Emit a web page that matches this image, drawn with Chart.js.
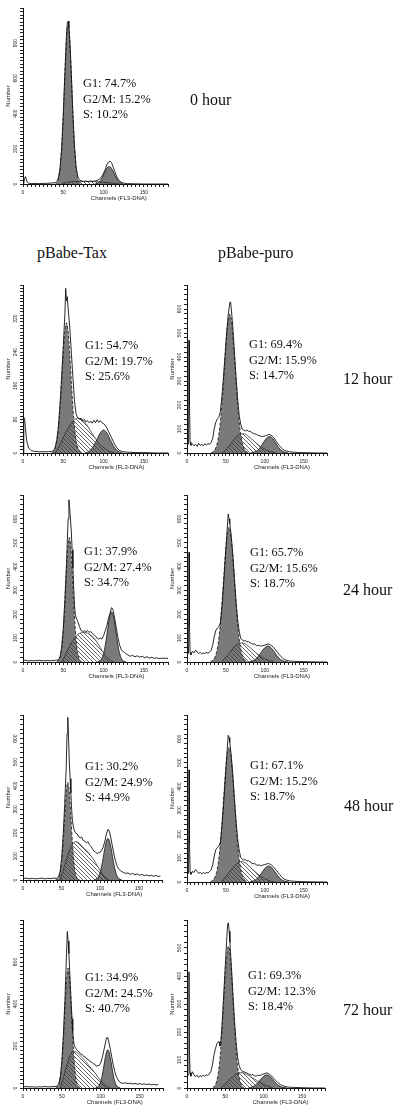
<!DOCTYPE html>
<html>
<head>
<meta charset="utf-8">
<script src="https://cdn.jsdelivr.net/npm/chart.js@4.4.1/dist/chart.umd.min.js"></script>
<style>
  body { margin: 0; background: #fff; }
  #page { position: relative; width: 400px; height: 1113px; overflow: hidden; background: #fff; }
  #page canvas { position: absolute; }
  .txt { position: absolute; font-family: 'Liberation Serif', 'Times New Roman', serif; color: #111; white-space: nowrap; }
  .stats { font-size: 12.3px; line-height: 15.5px; }
  .hour, .head { font-size: 16px; line-height: 20px; }
</style>
</head>
<body>
<div id="page"></div>
<script>
// labels
const hourLabels = ['0 hour', '12 hour', '24 hour', '48 hour', '72 hour'];
const groupNames = ['pBabe-Tax', 'pBabe-puro'];
const g1Pct = [74.7, 54.7, 69.4, 37.9, 65.7, 30.2, 67.1, 34.9, 69.3];
const g2Pct = [15.2, 19.7, 15.9, 27.4, 15.6, 24.9, 15.2, 24.5, 12.3];
const sPct  = [10.2, 25.6, 14.7, 34.7, 18.7, 44.9, 18.7, 40.7, 18.4];

// axis ticks per panel
const yTop   = [1000, 400, 700, 700, 700, 700, 700, 800, 600];
const yMajor = [200, 80, 100, 100, 100, 100, 100, 200, 100];
const yMinor = [20, 8, 20, 20, 20, 20, 20, 20, 20];
const xMajor = [0, 50, 100, 150];

// histograms: [channel, count]
// 0 hour
const raw0 = [[0,0],[1,8],[2,30],[3,42],[4,28],[5,12],[7,5],[10,2],[15,3],[20,2],[25,3],[30,4],[35,5],[40,8],[42,14],[44,35],[46,90],[48,205],[50,395],[52,630],[54,850],[55,915],[56,925],[57,885],[58,830],[60,625],[62,395],[64,210],[66,95],[68,42],[70,24],[72,18],[75,14],[78,16],[81,13],[84,17],[87,15],[90,18],[93,22],[96,32],[99,52],[102,82],[104,108],[106,124],[108,130],[110,120],[112,96],[114,70],[116,46],[118,28],[120,16],[123,8],[126,4],[130,2],[140,1],[150,0],[180,0]];
const g1_0 = [[40,0],[42,5],[44,30],[46,85],[48,198],[50,384],[52,616],[54,820],[56,900],[58,820],[60,616],[62,384],[64,198],[66,85],[68,30],[70,8],[72,0]];
const g2_0 = [[89,0],[92,4],[95,14],[98,32],[101,61],[104,88],[107,100],[110,88],[113,61],[116,32],[119,14],[122,4],[125,0]];
const s_0  = [[48,0],[54,8],[60,13],[68,15],[78,15],[88,14],[98,11],[106,7],[114,3],[120,0]];

// pBabe-Tax 12 hour
const rawTax12 = [[0,0],[1,85],[2,80],[3,60],[4,40],[5,25],[7,12],[10,6],[14,4],[20,3],[26,3],[32,3],[36,4],[38,6],[40,14],[42,32],[44,64],[46,118],[48,182],[50,255],[52,330],[53,392],[54,362],[55,372],[56,345],[58,300],[60,240],[62,178],[64,122],[66,92],[68,84],[70,80],[72,83],[74,76],[76,80],[78,74],[80,77],[82,72],[84,76],[86,71],[88,78],[90,72],[92,79],[94,73],[96,77],[98,72],[100,70],[102,66],[104,60],[106,52],[108,44],[110,36],[112,28],[114,20],[116,14],[118,9],[120,6],[124,3],[130,2],[140,1],[150,1],[165,0],[180,0]];
const g1Tax12 = [[36,1],[38,4],[40,12],[42,28],[44,59],[46,108],[48,171],[50,238],[52,290],[54,310],[56,290],[58,238],[60,171],[62,108],[64,59],[66,28],[68,12],[70,4],[72,0]];
const g2Tax12 = [[78,0],[80,2],[84,7],[88,18],[92,33],[96,48],[100,55],[104,48],[108,33],[112,18],[116,7],[120,2],[124,0]];
const sTax12  = [[40,0],[46,20],[52,45],[58,65],[63,78],[68,83],[73,80],[78,70],[84,52],[90,34],[96,20],[102,10],[108,3],[114,0]];

// pBabe-puro 12 hour
const rawPuro12 = [[0,30],[2,38],[2.6,470],[3.2,200],[4,45],[5,32],[7,38],[9,30],[11,36],[13,28],[15,40],[17,32],[19,36],[21,30],[23,38],[25,34],[27,40],[29,36],[31,44],[33,60],[35,100],[37,128],[39,142],[41,148],[43,175],[45,240],[47,320],[49,410],[51,505],[53,575],[55,625],[56,630],[57,600],[59,520],[61,420],[63,320],[65,230],[67,160],[69,120],[71,100],[73,95],[75,92],[77,96],[79,90],[81,92],[83,86],[85,82],[87,80],[89,78],[91,74],[93,72],[95,70],[97,68],[99,70],[101,72],[103,74],[105,78],[107,76],[109,72],[111,66],[113,58],[115,48],[117,38],[119,30],[121,22],[123,16],[125,12],[128,8],[132,5],[138,3],[145,2],[155,1],[170,0],[180,0]];
const g1Puro12 = [[31,0],[33,4],[35,10],[37,21],[39,42],[41,78],[43,133],[45,208],[47,301],[49,400],[51,491],[53,555],[55,578],[57,555],[59,491],[61,400],[63,301],[65,208],[67,133],[69,78],[71,42],[73,21],[75,10],[77,4],[79,0]];
const g2Puro12 = [[82,0],[86,3],[90,9],[94,22],[98,42],[102,61],[106,69],[110,61],[114,42],[118,22],[122,9],[126,3],[130,0]];
const sPuro12  = [[45,0],[52,20],[58,45],[63,65],[68,78],[73,80],[78,72],[84,55],[90,38],[96,24],[102,12],[108,5],[114,0]];

// pBabe-Tax 24 hour
const rawTax24 = [[0,5],[3,8],[6,4],[10,6],[15,5],[20,7],[25,5],[30,6],[35,5],[40,7],[44,8],[46,22],[48,62],[50,138],[52,262],[54,412],[56,600],[57,680],[58,640],[59,595],[60,545],[61,470],[62,395],[63,305],[64,235],[65,198],[66,185],[68,170],[70,150],[72,132],[74,128],[76,131],[78,126],[80,132],[82,124],[84,128],[86,120],[88,115],[90,108],[92,100],[94,96],[96,100],[98,96],[100,110],[102,130],[104,150],[106,180],[108,205],[110,228],[111,225],[112,215],[114,180],[116,140],[118,100],[120,70],[122,52],[124,44],[126,40],[128,34],[130,30],[133,24],[136,28],[139,22],[142,26],[145,20],[148,24],[151,18],[154,22],[157,16],[160,20],[163,15],[166,18],[169,14],[172,16],[180,15]];
const g1Tax24 = [[42,0],[44,6],[46,20],[48,56],[50,130],[52,247],[54,386],[56,494],[57.5,522],[59,494],[61,386],[63,247],[65,130],[67,56],[69,20],[71,6],[73,0]];
const g2Tax24 = [[92,0],[94,2],[96,6],[98,16],[100,35],[102,67],[104,111],[106,158],[108,195],[110,210],[112,195],[114,158],[116,111],[118,67],[120,35],[122,16],[124,6],[126,2],[128,0]];
const sTax24  = [[48,0],[52,25],[56,55],[60,80],[64,100],[68,115],[72,122],[76,124],[80,121],[84,113],[88,100],[92,82],[96,60],[100,38],[104,20],[108,8],[112,0]];

// pBabe-puro 24 hour
const rawPuro24 = [[0,30],[2,36],[2.6,460],[3.2,150],[4,40],[5,30],[7,45],[9,38],[11,50],[13,42],[15,36],[17,40],[19,34],[21,38],[23,36],[25,40],[27,37],[29,42],[31,48],[33,70],[35,105],[37,132],[39,142],[41,148],[43,165],[45,232],[47,322],[49,425],[51,525],[53,620],[54,600],[55,580],[57,525],[59,445],[61,350],[63,255],[65,182],[67,130],[69,100],[71,92],[73,88],[75,90],[77,84],[79,86],[81,80],[83,78],[85,74],[87,76],[89,70],[91,68],[93,70],[95,66],[97,68],[99,70],[101,72],[103,74],[105,76],[107,72],[109,68],[111,62],[113,54],[115,46],[117,38],[119,30],[121,22],[123,16],[125,11],[128,7],[132,4],[138,3],[145,2],[155,1],[170,0],[180,0]];
const g1Puro24 = [[30,0],[32,4],[34,10],[36,21],[38,41],[40,76],[42,130],[44,203],[46,294],[48,392],[50,480],[52,542],[54,565],[56,542],[58,480],[60,392],[62,294],[64,203],[66,130],[68,76],[70,41],[72,21],[74,10],[76,4],[78,0]];
const g2Puro24 = [[80,0],[84,4],[88,11],[92,25],[96,43],[100,60],[104,67],[108,60],[112,43],[116,25],[120,11],[124,4],[128,1],[130,0]];
const sPuro24  = [[44,0],[50,20],[56,45],[61,65],[66,78],[71,80],[76,74],[82,58],[88,40],[94,25],[100,13],[106,5],[112,0]];

// pBabe-Tax 48 hour
const rawTax48 = [[0,6],[4,8],[8,5],[12,7],[16,5],[20,6],[24,8],[28,5],[32,7],[36,6],[40,8],[44,7],[46,12],[48,35],[50,90],[52,190],[54,320],[56,480],[57,620],[58,690],[59,600],[60,500],[61,430],[62,370],[63,300],[64,250],[66,215],[68,200],[70,196],[72,185],[74,178],[76,182],[78,168],[80,165],[82,158],[84,162],[86,150],[88,142],[90,132],[92,122],[94,118],[96,112],[98,116],[100,118],[102,128],[104,140],[106,165],[108,195],[110,215],[111,212],[112,205],[114,175],[116,140],[118,105],[120,78],[122,58],[124,46],[126,40],[128,36],[130,32],[133,28],[136,30],[139,24],[142,28],[145,22],[148,26],[151,20],[154,24],[157,18],[160,22],[163,17],[166,20],[169,16],[172,19],[175,15],[178,17]];
const g1Tax48 = [[42,0],[44,2],[46,8],[48,28],[50,74],[52,157],[54,269],[56,373],[58,415],[60,373],[62,269],[64,157],[66,74],[68,28],[70,8],[72,2],[74,0]];
const g2Tax48 = [[92,0],[94,3],[96,7],[98,16],[100,34],[102,61],[104,97],[106,135],[108,165],[110,176],[112,165],[114,135],[116,97],[118,61],[120,34],[122,16],[124,7],[126,3],[128,0]];
const sTax48  = [[48,0],[52,40],[56,85],[60,125],[64,152],[68,163],[72,158],[76,145],[80,132],[84,118],[88,102],[92,84],[96,62],[100,40],[104,20],[108,8],[112,0]];

// pBabe-puro 48 hour
const rawPuro48 = [[0,30],[2,36],[2.6,470],[3.2,160],[4,42],[5,32],[7,44],[9,40],[11,52],[13,44],[15,36],[17,40],[19,34],[21,40],[23,35],[25,40],[27,38],[29,44],[31,50],[33,72],[35,108],[37,135],[39,145],[41,150],[43,168],[45,235],[47,325],[49,425],[51,525],[53,615],[54,605],[55,585],[57,525],[59,445],[61,350],[63,258],[65,185],[67,134],[69,104],[71,96],[73,92],[75,94],[77,88],[79,90],[81,84],[83,80],[85,76],[87,78],[89,72],[91,70],[93,72],[95,68],[97,70],[99,72],[101,74],[103,76],[105,78],[107,74],[109,70],[111,64],[113,56],[115,48],[117,40],[119,32],[121,24],[123,17],[125,12],[128,8],[132,5],[138,3],[145,2],[155,1],[170,0],[180,0]];
const g1Puro48 = [[30,0],[32,4],[34,10],[36,21],[38,41],[40,76],[42,130],[44,203],[46,294],[48,392],[50,480],[52,542],[54,564],[56,542],[58,480],[60,392],[62,294],[64,203],[66,130],[68,76],[70,41],[72,21],[74,10],[76,4],[78,0]];
const g2Puro48 = [[81,0],[85,4],[89,11],[93,25],[97,43],[101,60],[105,67],[109,60],[113,43],[117,25],[121,11],[125,4],[129,1],[131,0]];
const sPuro48  = [[44,0],[50,22],[56,48],[61,68],[66,82],[71,85],[76,78],[82,60],[88,42],[94,26],[100,14],[106,5],[112,0]];

// pBabe-Tax 72 hour
const rawTax72 = [[0,5],[4,7],[8,5],[12,6],[16,4],[20,6],[24,5],[28,7],[32,5],[36,6],[40,7],[44,8],[46,20],[48,55],[50,130],[52,260],[54,430],[56,640],[57,745],[58,700],[59,640],[60,560],[61,480],[62,400],[63,330],[64,270],[65,225],[66,200],[68,188],[70,178],[72,172],[74,162],[76,160],[78,150],[80,148],[82,138],[84,136],[86,126],[88,124],[90,116],[92,114],[94,104],[96,106],[98,108],[100,120],[102,145],[104,180],[106,215],[107,232],[108,240],[109,236],[110,225],[112,190],[114,150],[116,110],[118,78],[120,55],[122,40],[124,30],[126,24],[129,22],[132,25],[135,20],[138,23],[141,19],[144,22],[147,18],[150,21],[153,17],[156,20],[159,16],[162,19],[165,15],[168,18],[171,14],[174,17]];
const g1Tax72 = [[42,0],[44,5],[46,16],[48,48],[50,118],[52,235],[54,385],[56,517],[58,571],[60,517],[62,385],[64,235],[66,118],[68,48],[70,16],[72,5],[74,0]];
const g2Tax72 = [[93,0],[95,3],[97,8],[99,21],[101,45],[103,83],[105,128],[107,167],[109,182],[111,167],[113,128],[115,83],[117,45],[119,21],[121,8],[123,3],[125,0]];
const sTax72  = [[48,0],[52,50],[56,105],[60,150],[64,176],[68,172],[72,160],[76,145],[80,128],[84,110],[88,92],[92,74],[96,54],[100,35],[104,18],[108,7],[112,0]];

// pBabe-puro 72 hour
const rawPuro72 = [[0,40],[2,48],[2.6,415],[3.2,130],[4,55],[5,42],[7,58],[9,48],[11,40],[13,46],[15,38],[17,44],[19,40],[21,46],[23,42],[25,48],[27,44],[29,50],[31,58],[33,80],[35,115],[37,140],[39,158],[41,166],[42,165],[43,150],[44,160],[46,240],[48,340],[50,440],[52,540],[53,585],[54,590],[55,560],[56,520],[58,430],[60,330],[62,240],[64,165],[66,110],[68,80],[70,66],[72,60],[74,58],[76,56],[78,54],[80,50],[82,48],[84,46],[86,48],[88,44],[90,42],[92,46],[94,44],[96,46],[98,48],[100,50],[102,52],[104,54],[106,52],[108,48],[110,44],[112,38],[114,32],[116,26],[118,20],[120,16],[122,12],[125,8],[128,5],[132,3],[140,2],[150,1],[165,0],[180,0]];
const g1Puro72 = [[34,0],[36,7],[38,18],[40,40],[42,78],[44,138],[46,220],[48,317],[50,411],[52,480],[54,506],[56,480],[58,411],[60,317],[62,220],[64,138],[66,78],[68,40],[70,18],[72,7],[74,0]];
const g2Puro72 = [[80,0],[84,3],[88,8],[92,17],[96,30],[100,42],[104,47],[108,42],[112,30],[116,17],[120,8],[124,3],[128,1],[130,0]];
const sPuro72  = [[44,0],[50,15],[56,32],[62,46],[67,54],[72,55],[77,50],[82,42],[88,32],[94,22],[100,13],[106,6],[112,0]];

const histos = [
  [raw0, g1_0, g2_0, s_0],
  [rawTax12, g1Tax12, g2Tax12, sTax12],
  [rawPuro12, g1Puro12, g2Puro12, sPuro12],
  [rawTax24, g1Tax24, g2Tax24, sTax24],
  [rawPuro24, g1Puro24, g2Puro24, sPuro24],
  [rawTax48, g1Tax48, g2Tax48, sTax48],
  [rawPuro48, g1Puro48, g2Puro48, sPuro48],
  [rawTax72, g1Tax72, g2Tax72, sTax72],
  [rawPuro72, g1Puro72, g2Puro72, sPuro72]
];

// page layout: axis origin, plot top, px per channel, stats block spot
const layout = [
  { left: 23, top: 8, base: 184, ppc: 0.807, tx: 83, ty: 84, title: 119 },
  { left: 23, top: 285, base: 453, ppc: 0.807, tx: 85, ty: 346, title: 116 },
  { left: 187, top: 285, base: 453, ppc: 0.78, tx: 249, ty: 345, title: 122 },
  { left: 23, top: 495, base: 662, ppc: 0.807, tx: 84, ty: 552, title: 116 },
  { left: 187, top: 495, base: 662, ppc: 0.78, tx: 250, ty: 553, title: 122 },
  { left: 23, top: 715, base: 880, ppc: 0.77, tx: 85, ty: 767, title: 118 },
  { left: 187, top: 715, base: 882, ppc: 0.78, tx: 250, ty: 766, title: 122 },
  { left: 23, top: 920, base: 1088, ppc: 0.775, tx: 85, ty: 978, title: 118 },
  { left: 187, top: 920, base: 1088, ppc: 0.767, tx: 248, ty: 976, title: 122 }
];
const hourSpots = [[190, 100], [343, 379], [343, 590], [344, 806], [343, 1010]];
const headSpots = [[37, 253], [218, 253]];

const page = document.getElementById('page');
const GRAY = '#7a7a7a';
const SANS = "'Liberation Sans', Arial, sans-serif";

function makeHatch() {
  const c = document.createElement('canvas');
  c.width = 4; c.height = 4;
  const g = c.getContext('2d');
  g.strokeStyle = '#333';
  g.lineWidth = 0.75;
  g.beginPath();
  g.moveTo(0, 0); g.lineTo(4, 4);
  g.moveTo(-1, 3); g.lineTo(1, 5);
  g.moveTo(3, -1); g.lineTo(5, 1);
  g.stroke();
  return g.createPattern(c, 'repeat');
}
const hatch = makeHatch();

// "Channels (FL3-DNA)" sits right of centre in the original, so draw it by hand
const xTitle = {
  id: 'xTitle',
  afterDraw(chart, args, opts) {
    const { ctx, chartArea } = chart;
    const x = chart.scales.x.getPixelForValue(opts.at);
    ctx.save();
    ctx.font = '6px ' + SANS;
    ctx.fillStyle = '#222';
    ctx.textAlign = 'center';
    ctx.textBaseline = 'middle';
    ctx.fillText('Channels (FL3-DNA)', x, chartArea.bottom + 14);
    ctx.restore();
  }
};

function pts(a) { return a.map(p => ({ x: p[0], y: p[1] })); }

function drawPanel(i) {
  const L = layout[i];
  const [raw, g1, g2, s] = histos[i];
  const areaW = 180 * L.ppc;
  const cv = document.createElement('canvas');
  cv.width = Math.round(20 + areaW + 8);
  cv.height = Math.round(3 + (L.base - L.top) + 22);
  cv.style.left = (L.left - 20) + 'px';
  cv.style.top = (L.top - 3) + 'px';
  page.appendChild(cv);

  new Chart(cv, {
    type: 'line',
    data: {
      datasets: [
        { data: pts(raw), borderColor: '#111', borderWidth: 0.9, fill: false, tension: 0, order: 1 },
        { data: pts(s), borderColor: '#222', borderWidth: 0.7, backgroundColor: hatch, fill: 'origin', cubicInterpolationMode: 'monotone', order: 2 },
        { data: pts(g1), borderColor: '#111', borderWidth: 0.8, borderDash: [3, 2], backgroundColor: GRAY, fill: 'origin', cubicInterpolationMode: 'monotone', order: 3 },
        { data: pts(g2), borderColor: '#111', borderWidth: 0.8, backgroundColor: GRAY, fill: 'origin', cubicInterpolationMode: 'monotone', order: 3 }
      ]
    },
    options: {
      responsive: false,
      animation: false,
      events: [],
      layout: { padding: { top: 3, right: 8, left: 0, bottom: 0 } },
      elements: { point: { radius: 0 } },
      plugins: { legend: { display: false }, tooltip: { enabled: false }, xTitle: { at: L.title } },
      scales: {
        x: {
          type: 'linear', min: 0, max: 180,
          afterFit: sc => { sc.height = 22; },
          border: { color: '#111', width: 1 },
          grid: { drawOnChartArea: false, drawTicks: true, tickLength: 3, color: '#222' },
          ticks: {
            stepSize: 5, autoSkip: false, minRotation: 0, maxRotation: 0, padding: 2.5,
            color: '#222', font: { family: SANS, size: 5 },
            callback: v => xMajor.includes(v) ? String(v) : ''
          }
        },
        y: {
          min: 0, max: yTop[i],
          afterFit: sc => { sc.width = 20; },
          border: { color: '#111', width: 1 },
          grid: { drawOnChartArea: false, drawTicks: true, tickLength: 3, color: '#222' },
          ticks: {
            stepSize: yMinor[i], autoSkip: false, minRotation: 90, maxRotation: 90,
            crossAlign: 'center', padding: 0,
            color: '#222', font: { family: SANS, size: 5 },
            callback: v => (v % yMajor[i] === 0 && v < yTop[i]) ? String(v) : ''
          },
          title: { display: true, text: 'Number', color: '#222', font: { family: SANS, size: 6 }, padding: { top: 2, bottom: 0 } }
        }
      }
    },
    plugins: [xTitle]
  });

  const st = document.createElement('div');
  st.className = 'txt stats';
  st.style.left = L.tx + 'px';
  st.style.top = (L.ty - 7.75) + 'px';
  st.innerHTML = 'G1: ' + g1Pct[i].toFixed(1) + '%<br>G2/M: ' + g2Pct[i].toFixed(1) + '%<br>S: ' + sPct[i].toFixed(1) + '%';
  page.appendChild(st);
}

for (let i = 0; i < histos.length; i++) drawPanel(i);

hourLabels.forEach((t, k) => {
  const d = document.createElement('div');
  d.className = 'txt hour';
  d.textContent = t;
  d.style.left = hourSpots[k][0] + 'px';
  d.style.top = (hourSpots[k][1] - 10) + 'px';
  page.appendChild(d);
});

groupNames.forEach((t, k) => {
  const d = document.createElement('div');
  d.className = 'txt head';
  d.textContent = t;
  d.style.left = headSpots[k][0] + 'px';
  d.style.top = (headSpots[k][1] - 10) + 'px';
  page.appendChild(d);
});
</script>
</body>
</html>
